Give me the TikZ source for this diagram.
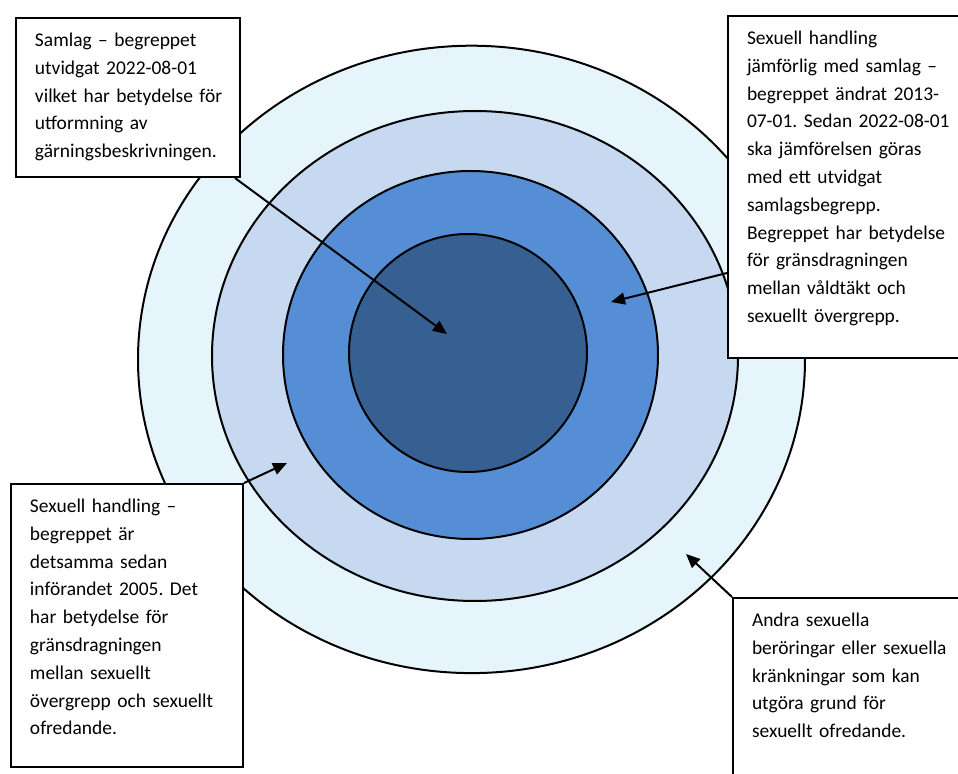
\documentclass[tikz,border=0pt]{standalone}
\usepackage{fontspec}
\setmainfont{Carlito}
\usepackage{xcolor}
\usepackage{tikz}
\usetikzlibrary{arrows.meta,calc}

\definecolor{ring1}{RGB}{230,245,251}
\definecolor{ring2}{RGB}{198,217,240}
\definecolor{ring3}{RGB}{85,142,213}
\definecolor{ring4}{RGB}{54,96,146}
\newcommand{\luft}[1]{\rule[-#1]{0pt}{#1}}

\begin{document}
\begin{tikzpicture}[x=0.75pt, y=-0.75pt,
    ring/.style={draw=black, line width=1.5pt},
    ruta/.style={draw=black, line width=1.5pt, fill=white, anchor=north west,
        inner xsep=14.25pt, inner ysep=6.8pt, align=left,
        font=\fontsize{14.6}{20.85}\selectfont\frenchspacing,
        execute at begin node=\strut},
    pil/.style={line width=1.5pt, -{Triangle[length=10.5pt,width=9pt]}}]
    \clip (0,0) rectangle (958,774);

    % Rings, outermost first
    \draw[ring, fill=ring1] (471.5,359.4) ellipse [x radius=333.5, y radius=313.7];
    \draw[ring, fill=ring2] (475,356) ellipse [x radius=263, y radius=245];
    \draw[ring, fill=ring3] (470.5,355) ellipse [x radius=187.5, y radius=184];
    \draw[ring, fill=ring4] (468,353) ellipse [x radius=119, y radius=119];

    % Arrow targets
    \coordinate (karna) at (447,334);
    \coordinate (ring3pkt) at (611,302);
    \coordinate (ring2pkt) at (287,463);
    \coordinate (ring1pkt) at (686,554);

    % Text boxes
    \node[ruta, text width=139.5pt] (samlag) at (15,17)
        {Samlag – begreppet\\ utvidgat 2022-08-01\\ \mbox{vilket har betydelse för}\\
         utformning av\\ gärningsbeskrivningen.\luft{7.7pt}};
    \node[ruta, text width=196.5pt] (jamforlig) at (727,15)
        {Sexuell handling\\ jämförlig med samlag –\\ begreppet ändrat 2013-\\
         07-01. Sedan 2022-08-01\\ ska jämförelsen göras\\ med ett utvidgat\\
         samlagsbegrepp.\\ Begreppet har betydelse\\ för gränsdragningen\\
         mellan våldtäkt och\\ sexuellt övergrepp.\luft{19.8pt}};
    \node[ruta, text width=145.5pt] (handling) at (10,483)
        {Sexuell handling –\\ begreppet är\\ detsamma sedan\\ införandet 2005. Det\\
         har betydelse för\\ gränsdragningen\\ mellan sexuellt\\
         övergrepp och sexuellt\\ ofredande.\luft{17.3pt}};
    \node[ruta, text width=196.5pt] (andra) at (732,597)
        {Andra sexuella\\ beröringar eller sexuella\\ kränkningar som kan\\
         utgöra grund för\\ sexuellt ofredande.\luft{40pt}};

    % Arrows
    \draw[pil] ([xshift=-4.5pt]samlag.south east) -- (karna);
    \draw[pil] ($(jamforlig.north west)!0.75!(jamforlig.south west)$) -- (ring3pkt);
    \draw[pil] (handling.north east) -- (ring2pkt);
    \draw[pil] (andra.north west) -- (ring1pkt);
\end{tikzpicture}
\end{document}
